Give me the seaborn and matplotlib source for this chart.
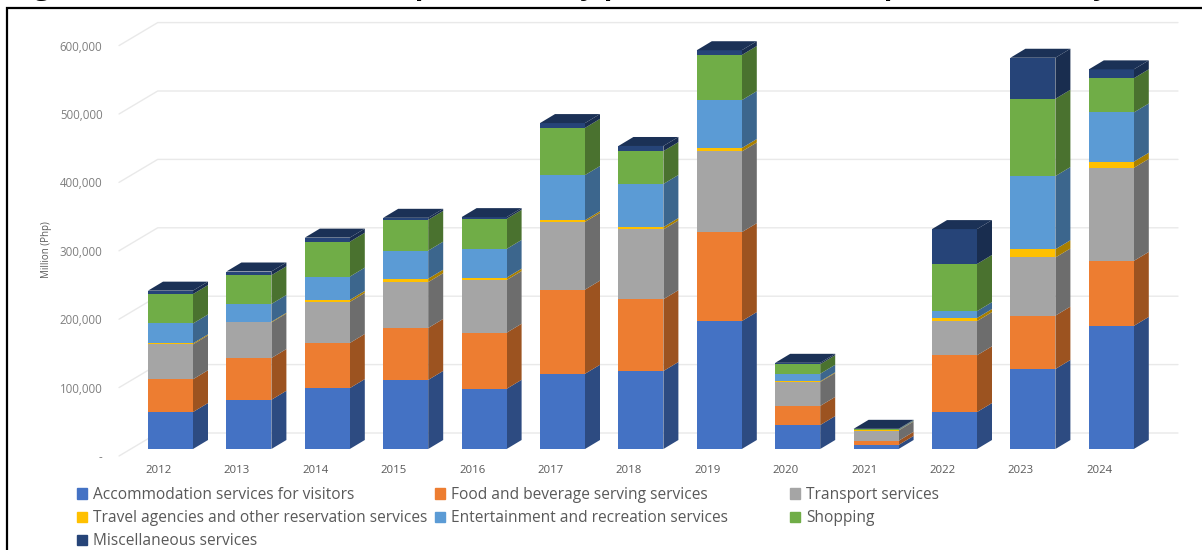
import numpy as np
import matplotlib
matplotlib.use("Agg")
import matplotlib.pyplot as plt
import matplotlib.colors as mcolors
from matplotlib.lines import Line2D
from matplotlib.patches import Patch
from matplotlib.transforms import ScaledTranslation
import seaborn as sns

# -----------------------------
# DATA (million Php)
# -----------------------------

years = ["2012", "2013", "2014", "2015", "2016", "2017", "2018",
         "2019", "2020", "2021", "2022", "2023", "2024"]

accommodation = [54000, 72000, 89000, 101000, 88000, 110000, 114000,
                 187000, 35000, 6000, 54000, 117000, 180000]
food = [48000, 61000, 66000, 76000, 82000, 123000, 105000,
        130000, 28000, 6000, 83000, 78000, 95000]
transport = [51000, 52000, 60000, 67000, 77000, 99000, 102000,
             118000, 35000, 15000, 50000, 85000, 136000]
travel = [1500, 1000, 3000, 5000, 3500, 2500, 3500,
          5000, 1000, 500, 4500, 12000, 9000]
entertainment = [29000, 26000, 34000, 41000, 42000, 66000, 63000,
                 70000, 11000, 1000, 10000, 107000, 72000]
shopping = [43000, 42000, 51000, 45000, 44000, 69000, 48000,
            66000, 14000, 500, 69000, 113000, 50000]
misc = [5000, 5500, 6000, 3000, 2500, 7000, 7500,
        7000, 2000, 500, 51000, 60000, 13000]

series_names = ["Accommodation services for visitors",
                "Food and beverage serving services",
                "Transport services",
                "Travel agencies and other reservation services",
                "Entertainment and recreation services",
                "Shopping",
                "Miscellaneous services"]
series_colors = ["#4472C4", "#ED7D31", "#A5A5A5", "#FFC000",
                 "#5B9BD5", "#70AD47", "#264478"]

y_ticks = [0, 100000, 200000, 300000, 400000, 500000, 600000]
y_tick_labels = ["-", "100,000", "200,000", "300,000",
                 "400,000", "500,000", "600,000"]

title_text = ("Figure 3. Internal Tourism Expenditure by product "
              "(at current prices, annually)")

# -----------------------------
# SCALES (pixels of the 1202x550 picture)
# -----------------------------

W, H = 1202, 550
BASE_Y = 449       # pixel row of value 0
PX_PER_100K = 68.4
STEP = 78.4        # pixels between bars
FIRST_X = 170.5    # centre of first bar
AX_LEFT = 108

sns.set_theme(style="white")
plt.rcParams["font.family"] = ["Open Sans", "DejaVu Sans"]

fig = plt.figure(figsize=(W / 100, H / 100), dpi=100)
ax = fig.add_axes([AX_LEFT / W, (H - BASE_Y) / H, 1 - AX_LEFT / W, BASE_Y / H])


def px_x(n):
    return n / STEP


def px_y(n):
    return n / PX_PER_100K * 100000


# -----------------------------
# STACKED BARS (tallest first, overdrawn)
# -----------------------------

stack = np.array([accommodation, food, transport, travel,
                  entertainment, shopping, misc], dtype=float)
tops = stack.cumsum(axis=0)
bottoms = tops - stack
positions = np.arange(len(years))

bar_w = 45 / STEP
dx, dy = px_x(15), px_y(9)


def darker(color, k):
    return tuple(c * k for c in mcolors.to_rgb(color))


for i in reversed(range(len(series_names))):
    sns.barplot(x=years, y=tops[i], color=series_colors[i], saturation=1,
                width=bar_w, errorbar=None, ax=ax, zorder=3, linewidth=0)

# side faces and the lid
for i, color in enumerate(series_colors):
    side = darker(color, 0.66)
    for p in positions:
        x1 = p + bar_w / 2
        ax.fill([x1, x1, x1 + dx, x1 + dx],
                [bottoms[i][p], tops[i][p], tops[i][p] + dy, bottoms[i][p] + dy],
                color=side, lw=0, zorder=2.5)
for p in positions:
    x0, x1 = p - bar_w / 2, p + bar_w / 2
    t = tops[-1][p]
    ax.fill([x0, x1, x1 + dx, x0 + dx], [t, t, t + dy, t + dy],
            color=darker(series_colors[-1], 0.72), lw=0, zorder=3)

# -----------------------------
# BACK WALL GRID
# -----------------------------

wall_left = (157.7 - FIRST_X) / STEP
wall_right = (1178 - FIRST_X) / STEP
wall_up = px_y(16)
front_dx, front_dy = px_x(38.7), px_y(23)
grid_color = "#E9E9E9"

for v in y_ticks:
    ax.plot([wall_left - front_dx, wall_left, wall_right],
            [v + wall_up - front_dy, v + wall_up, v + wall_up],
            color=grid_color, lw=1, zorder=1, clip_on=False)

# -----------------------------
# AXES
# -----------------------------

ax.set_xlim((AX_LEFT - FIRST_X) / STEP, (W - FIRST_X) / STEP)
ax.set_ylim(0, px_y(BASE_Y))
sns.despine(ax=ax, left=True, bottom=True)
ax.set_xlabel("")
ax.set_ylabel("")

ax.set_xticks(positions, years)
ax.set_yticks(y_ticks, y_tick_labels)
ax.tick_params(axis="x", length=0, pad=11.5, labelsize=8.2, labelcolor="#595959")
ax.tick_params(axis="y", length=0, pad=4, labelsize=8.3, labelcolor="#7F7F7F")

for lab in ax.get_xticklabels():
    lab.set_transform(lab.get_transform()
                      + ScaledTranslation(-12 / 100, 0, fig.dpi_scale_trans))
for lab in ax.get_yticklabels():
    lab.set_transform(lab.get_transform()
                      + ScaledTranslation(0, -7 / 100, fig.dpi_scale_trans))

fig.text(46 / W, 1 - 250 / H, "Million (Php)", rotation=90, fontsize=7,
         color="#595959", ha="center", va="center")

# -----------------------------
# LEGEND (three columns at their own places)
# -----------------------------

columns = [([0, 3, 6], 77), ([1, 4], 434.5), ([2, 5], 790)]
for members, left in columns:
    handles = [Patch(color=series_colors[m], label=series_names[m]) for m in members]
    fig.legend(handles=handles, loc="upper left",
               bbox_to_anchor=(left / W, 1 - 487 / H), frameon=False,
               fontsize=11.2, labelcolor="#595959", borderpad=0, borderaxespad=0,
               handlelength=0.65, handleheight=0.65, handletextpad=0.4,
               labelspacing=0.46)

# -----------------------------
# FRAME AND CLIPPED TITLE
# -----------------------------

fig.add_artist(Line2D([7 / W, 7 / W, 1], [0, 1 - 8 / H, 1 - 8 / H],
                      color="black", lw=1.6, solid_joinstyle="miter"))
fig.text(10 / W, 1 + 6 / H, title_text, fontsize=20.5, fontweight="bold",
         color="black", ha="left", va="baseline")

fig.savefig("out.png", dpi=100)
